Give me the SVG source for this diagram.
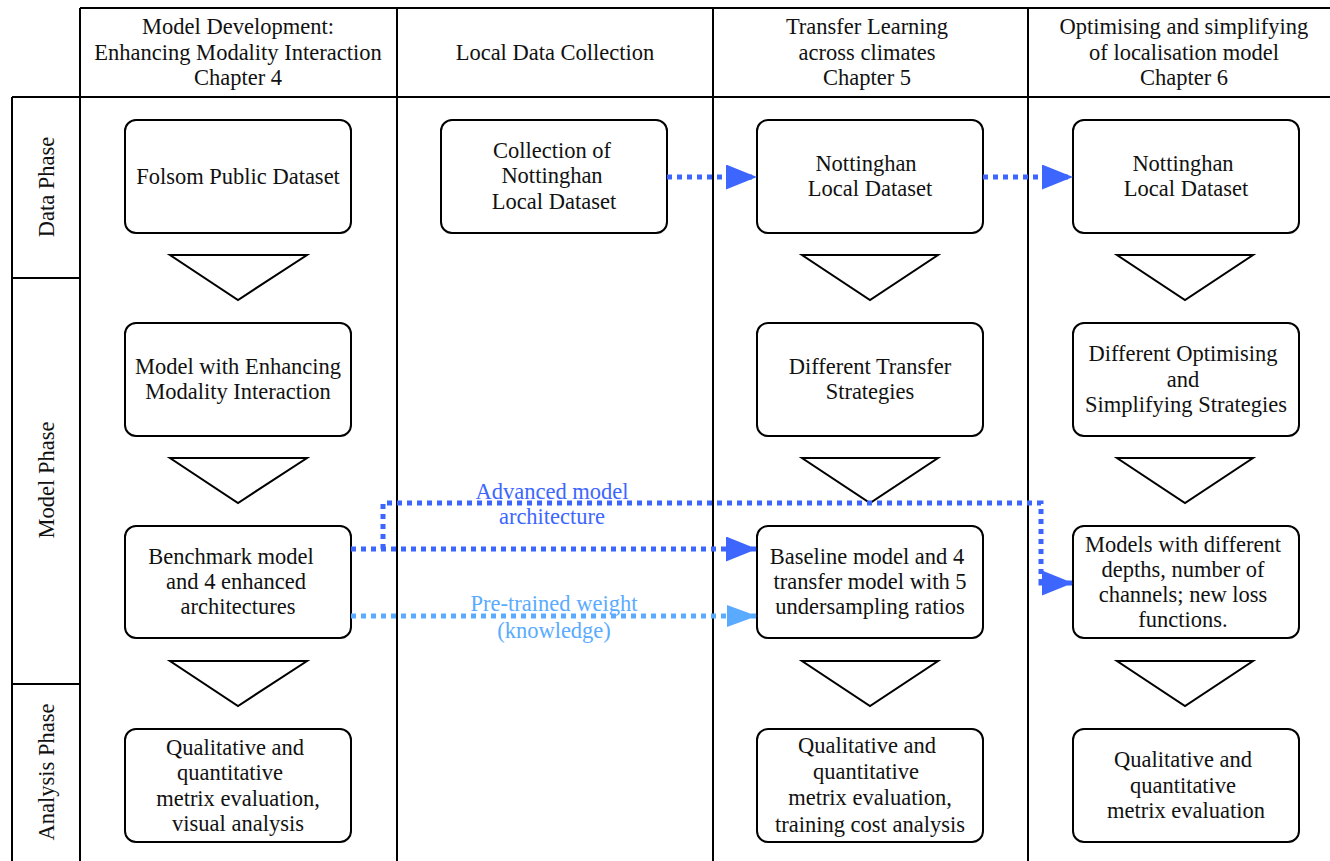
<svg xmlns="http://www.w3.org/2000/svg" width="1330" height="861" viewBox="0 0 1330 861">
  <style>
    text { font-family: "Liberation Serif", "Times New Roman", serif; font-size: 22.5px; fill: #111; text-anchor: middle; }
    .grid { stroke: #000; stroke-width: 2; fill: none; }
    .box { fill: #fff; stroke: #000; stroke-width: 2; }
    .tri { fill: #fff; stroke: #000; stroke-width: 2; stroke-linejoin: miter; }
    .flow { fill: none; stroke: #3d66ff; stroke-width: 5; stroke-dasharray: 5 5; }
    .flow-light { fill: none; stroke: #5aabff; stroke-width: 5; stroke-dasharray: 5 5; }
    .lbl { fill: #3d66ff; }
    .lbl-light { fill: #5aabff; }
  </style>
  <defs>
    <marker id="head" viewBox="0 0 31 25" refX="31" refY="12.5" markerWidth="31" markerHeight="25" markerUnits="userSpaceOnUse" orient="auto">
      <path d="M0,0 L31,12.5 L0,25 Z" fill="#3d66ff"/>
    </marker>
    <marker id="head-light" viewBox="0 0 30 22" refX="30" refY="11" markerWidth="30" markerHeight="22" markerUnits="userSpaceOnUse" orient="auto">
      <path d="M0,0 L30,11 L0,22 Z" fill="#5aabff"/>
    </marker>
  </defs>
  <rect width="1330" height="861" fill="#fff"/>

  <!-- swimlane grid -->
  <g id="grid" class="grid">
    <line x1="80" y1="8" x2="1330" y2="8"/>
    <line x1="12" y1="97" x2="1330" y2="97"/>
    <line x1="80" y1="8" x2="80" y2="861"/>
    <line x1="397" y1="8" x2="397" y2="861"/>
    <line x1="713" y1="8" x2="713" y2="861"/>
    <line x1="1028" y1="8" x2="1028" y2="861"/>
    <line x1="12" y1="97" x2="12" y2="861"/>
    <line x1="12" y1="278" x2="80" y2="278"/>
    <line x1="12" y1="684" x2="80" y2="684"/>
  </g>

  <!-- column headers -->
  <g id="headers">
    <text x="238" y="34">Model Development:</text>
    <text x="238" y="60">Enhancing Modality Interaction</text>
    <text x="238" y="85">Chapter 4</text>
    <text x="555" y="60">Local Data Collection</text>
    <text x="867" y="34">Transfer Learning</text>
    <text x="867" y="60">across climates</text>
    <text x="867" y="85">Chapter 5</text>
    <text x="1184" y="34">Optimising and simplifying</text>
    <text x="1184" y="60">of localisation model</text>
    <text x="1184" y="85">Chapter 6</text>
  </g>

  <!-- phase labels -->
  <g id="phases">
    <text transform="translate(54,187) rotate(-90)">Data Phase</text>
    <text transform="translate(54,480) rotate(-90)">Model Phase</text>
    <text transform="translate(54,772) rotate(-90)">Analysis Phase</text>
  </g>

  <!-- step triangles -->
  <g id="steps">
    <polygon class="tri" points="170,255 307,255 238,300"/>
    <polygon class="tri" points="170,458 307,458 238,503"/>
    <polygon class="tri" points="170,661 307,661 238,706"/>
    <polygon class="tri" points="802,255 938,255 870,300"/>
    <polygon class="tri" points="802,458 938,458 870,503"/>
    <polygon class="tri" points="802,661 938,661 870,706"/>
    <polygon class="tri" points="1117,255 1253,255 1185,300"/>
    <polygon class="tri" points="1117,458 1253,458 1185,503"/>
    <polygon class="tri" points="1117,661 1253,661 1185,706"/>
  </g>

  <!-- column 1 -->
  <g id="folsom">
    <rect class="box" x="125" y="120" width="226" height="113" rx="11"/>
    <text x="238" y="184">Folsom Public Dataset</text>
  </g>
  <g id="model-emi">
    <rect class="box" x="125" y="323" width="226" height="113" rx="11"/>
    <text x="238" y="374">Model with Enhancing</text>
    <text x="238" y="399">Modality Interaction</text>
  </g>
  <g id="benchmark">
    <rect class="box" x="125" y="526" width="226" height="112" rx="11"/>
    <text x="231" y="564">Benchmark model</text>
    <text x="236" y="589">and 4 enhanced</text>
    <text x="238" y="614">architectures</text>
  </g>
  <g id="analysis-1">
    <rect class="box" x="125" y="729" width="226" height="113" rx="11"/>
    <text x="235" y="755">Qualitative and</text>
    <text x="230" y="780">quantitative</text>
    <text x="238" y="806">metrix evaluation,</text>
    <text x="238" y="831">visual analysis</text>
  </g>

  <!-- column 2 -->
  <g id="collection">
    <rect class="box" x="441" y="120" width="226" height="113" rx="11"/>
    <text x="552" y="158">Collection of</text>
    <text x="552" y="183">Nottinghan</text>
    <text x="554" y="209">Local Dataset</text>
  </g>

  <!-- column 3 -->
  <g id="nott-local-5">
    <rect class="box" x="757" y="120" width="226" height="113" rx="11"/>
    <text x="866" y="171">Nottinghan</text>
    <text x="870" y="196">Local Dataset</text>
  </g>
  <g id="transfer">
    <rect class="box" x="757" y="323" width="226" height="113" rx="11"/>
    <text x="870" y="374">Different Transfer</text>
    <text x="870" y="399">Strategies</text>
  </g>
  <g id="baseline">
    <rect class="box" x="757" y="526" width="226" height="112" rx="11"/>
    <text x="867" y="564">Baseline model and 4</text>
    <text x="870" y="589">transfer model with 5</text>
    <text x="870" y="614">undersampling ratios</text>
  </g>
  <g id="analysis-3">
    <rect class="box" x="757" y="729" width="226" height="113" rx="11"/>
    <text x="867" y="753">Qualitative and</text>
    <text x="866" y="779">quantitative</text>
    <text x="870" y="805">metrix evaluation,</text>
    <text x="870" y="832">training cost analysis</text>
  </g>

  <!-- column 4 -->
  <g id="nott-local-6">
    <rect class="box" x="1073" y="120" width="226" height="113" rx="11"/>
    <text x="1183" y="171">Nottinghan</text>
    <text x="1186" y="196">Local Dataset</text>
  </g>
  <g id="optimise">
    <rect class="box" x="1073" y="323" width="226" height="113" rx="11"/>
    <text x="1183" y="361">Different Optimising</text>
    <text x="1183" y="387">and</text>
    <text x="1186" y="412">Simplifying Strategies</text>
  </g>
  <g id="variants">
    <rect class="box" x="1073" y="526" width="226" height="112" rx="11"/>
    <text x="1183" y="552">Models with different</text>
    <text x="1183" y="577">depths, number of</text>
    <text x="1183" y="602">channels; new loss</text>
    <text x="1183" y="627">functions.</text>
  </g>
  <g id="analysis-4">
    <rect class="box" x="1073" y="729" width="226" height="113" rx="11"/>
    <text x="1183" y="767">Qualitative and</text>
    <text x="1183" y="793">quantitative</text>
    <text x="1186" y="818">metrix evaluation</text>
  </g>

  <!-- connectors -->
  <g id="connectors">
    <path class="flow" d="M351,549 H757" marker-end="url(#head)"/>
    <path class="flow" d="M383,549 V503 H1041 V583 H1073" marker-end="url(#head)"/>
    <path class="flow" d="M667,177 H757" marker-end="url(#head)"/>
    <path class="flow" d="M983,177 H1073" marker-end="url(#head)"/>
    <path class="flow-light" d="M351,616 H757" marker-end="url(#head-light)"/>
    <text class="lbl" x="552" y="499">Advanced model</text>
    <text class="lbl" x="552" y="524">architecture</text>
    <text class="lbl-light" x="554" y="611">Pre-trained weight</text>
    <text class="lbl-light" x="554" y="638">(knowledge)</text>
  </g>
</svg>
